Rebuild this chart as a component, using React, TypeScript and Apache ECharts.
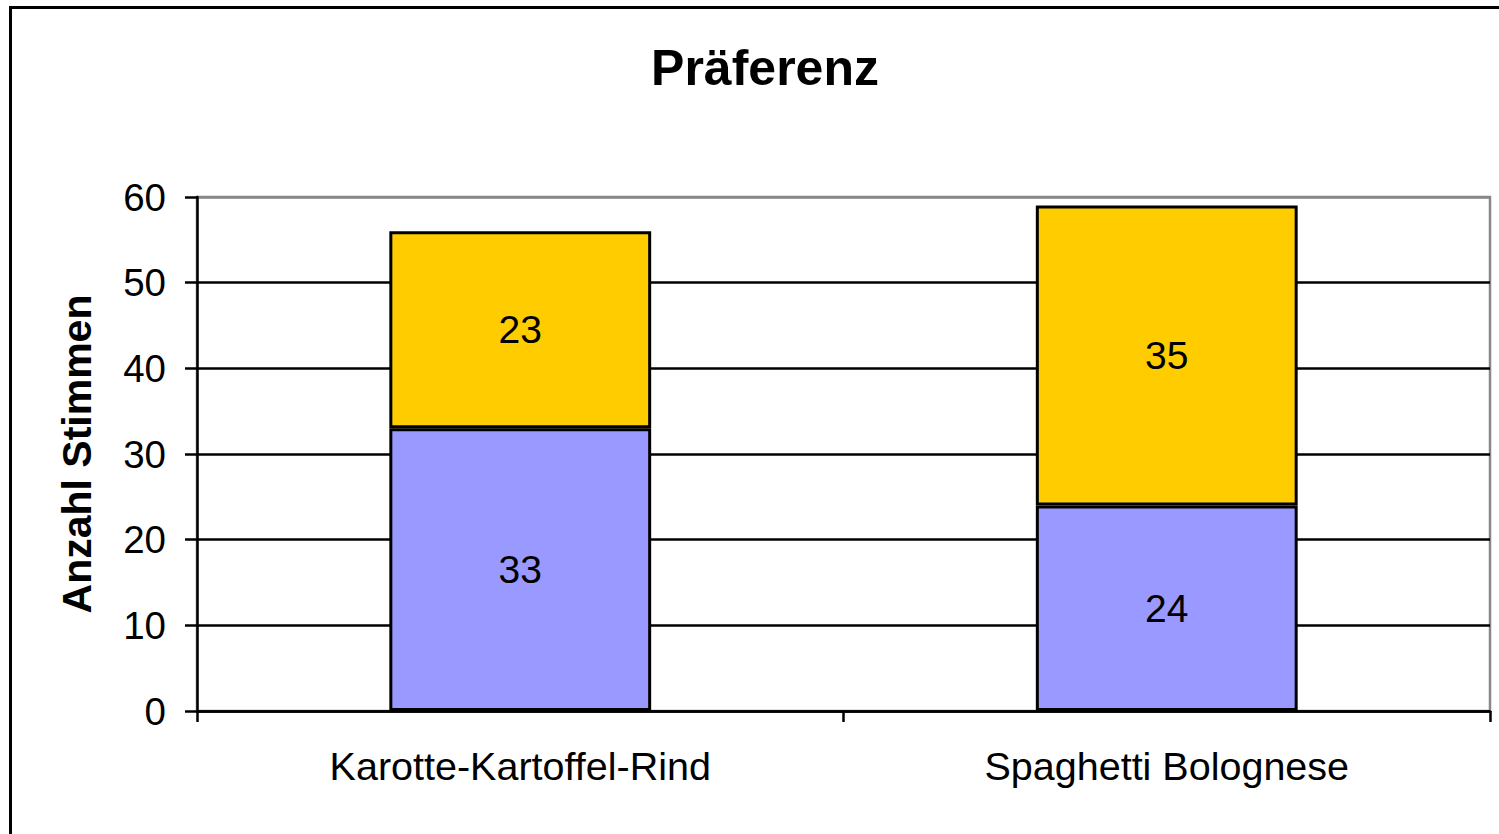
import React, { useEffect, useRef } from "react";
import * as echarts from "echarts";

const title = "Präferenz";
const categories = ["Karotte-Kartoffel-Rind", "Spaghetti Bolognese"];
const lowerValues = [33, 24];
const upperValues = [23, 35];
const yAxisName = "Anzahl Stimmen";

export default function App() {
  const ref = useRef<HTMLDivElement>(null);
  useEffect(() => {
    if (!ref.current) return;
    const chart = echarts.init(ref.current, null, { renderer: "svg" });
    const font = "Liberation Sans, Arial, sans-serif";
    const lab = {
      show: true,
      position: "inside",
      color: "#000",
      fontSize: 39,
      fontFamily: font,
    };
    chart.setOption({
      animation: false,
      backgroundColor: "#fff",
      title: {
        text: title,
        left: 760,
        top: 38,
        textAlign: "center",
        textStyle: { fontSize: 50, fontWeight: "bold", color: "#000", fontFamily: font },
      },
      graphic: [
        {
          type: "rect",
          shape: { x: 10.5, y: 7.5, width: 1600, height: 1000 },
          style: { fill: "none", stroke: "#000", lineWidth: 3 },
          silent: true,
        },
      ],
      grid: {
        left: 197,
        top: 197,
        right: 9,
        bottom: 123,
        show: true,
        borderColor: "#888",
        borderWidth: 2.5,
      },
      xAxis: {
        type: "category",
        data: categories,
        axisLine: { lineStyle: { color: "#000", width: 2.5 } },
        axisTick: { show: true, length: 11, lineStyle: { color: "#000", width: 2.5 } },
        axisLabel: { color: "#000", fontSize: 39.5, fontFamily: font, margin: 35 },
      },
      yAxis: {
        type: "value",
        min: 0,
        max: 60,
        interval: 10,
        name: yAxisName,
        nameLocation: "middle",
        nameGap: 100,
        nameRotate: 90,
        nameTextStyle: { color: "#000", fontSize: 41, fontWeight: "bold", fontFamily: font },
        axisLine: { show: true, lineStyle: { color: "#000", width: 2.5 } },
        axisTick: { show: true, length: 12, lineStyle: { color: "#000", width: 2.5 } },
        axisLabel: { color: "#000", fontSize: 38.5, fontFamily: font, margin: 31 },
        splitLine: {
          show: true,
          lineStyle: {
            color: ["#000", "#000", "#000", "#000", "#000", "#000", "#888"],
            width: 2.5,
          },
        },
      },
      series: [
        {
          type: "bar",
          stack: "total",
          data: lowerValues,
          barWidth: "40.5%",
          itemStyle: { color: "#9999FF", borderColor: "#000", borderWidth: 3 },
          label: lab,
        },
        {
          type: "bar",
          stack: "total",
          data: upperValues,
          barWidth: "40.5%",
          itemStyle: { color: "#FFCC00", borderColor: "#000", borderWidth: 3 },
          label: lab,
        },
      ],
    });
    return () => chart.dispose();
  }, []);
  return (
    <div
      ref={ref}
      style={{ position: "fixed", left: 0, top: 0, width: 1499, height: 834 }}
    />
  );
}
